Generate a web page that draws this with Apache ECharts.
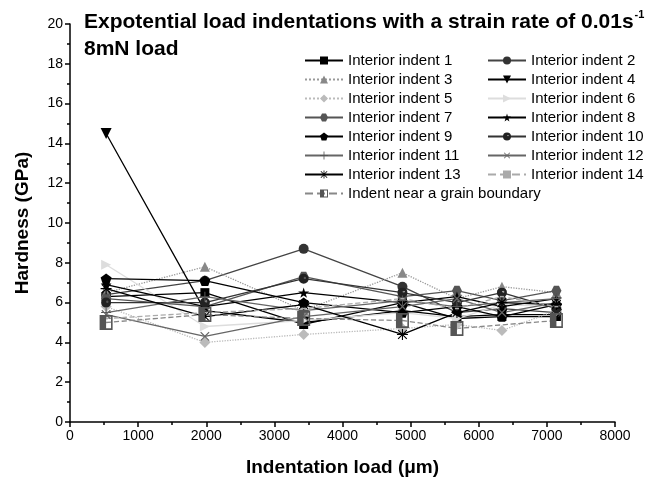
<!DOCTYPE html>
<html>
<head>
    <meta charset="utf-8">
    <title>Hardness vs indentation load</title>
    <script src="https://cdn.jsdelivr.net/npm/echarts@6/dist/echarts.min.js"></script>
    <style>
        html, body { margin: 0; padding: 0; background: #fff; }
        #main { width: 648px; height: 482px; }
    </style>
</head>
<body>
<div id="main"></div>
<script type="text/javascript">
    // 数据：压痕位置 (x) 与各压痕的硬度值 (GPa)
    var loads = [530, 1980, 3430, 4880, 5680, 6340, 7140];

    var indent1  = [6.3, 6.5, 4.9, 6.0, 5.2, 5.3, 5.3];
    var indent2  = [6.4, 7.1, 8.7, 6.8, 5.5, 5.7, 5.5];
    var indent3  = [6.5, 7.8, 5.6, 7.5, 6.2, 6.8, 6.5];
    var indent4  = [14.5, 5.6, 5.0, 5.6, 5.3, 5.4, 5.4];
    var indent5  = [5.8, 4.0, 4.4, 4.7, 4.9, 4.6, 5.6];
    var indent6  = [7.9, 4.8, 5.1, 5.5, 5.2, 5.9, 5.8];
    var indent7  = [6.2, 5.8, 7.3, 6.3, 6.6, 6.1, 6.6];
    var indent8  = [6.9, 5.8, 6.5, 6.0, 6.3, 5.8, 6.2];
    var indent9  = [7.2, 7.1, 6.0, 5.5, 5.8, 5.3, 5.9];
    var indent10 = [6.0, 6.0, 7.2, 6.5, 6.0, 6.5, 5.7];
    var indent11 = [5.5, 6.3, 5.6, 6.1, 5.8, 6.0, 6.2];
    var indent12 = [5.4, 4.3, 5.3, 5.8, 6.2, 5.5, 6.0];
    var indent13 = [6.7, 5.3, 5.9, 4.4, 5.5, 6.0, 5.9];
    var indent14 = [5.2, 5.5, 5.7, 6.2, 5.7, 6.3, 5.8];
    var boundary = [5.0, 5.4, 5.2, 5.1, 4.7, null, 5.1];

    var names = ['Interior indent 1', 'Interior indent 2', 'Interior indent 3', 'Interior indent 4',
        'Interior indent 5', 'Interior indent 6', 'Interior indent 7', 'Interior indent 8',
        'Interior indent 9', 'Interior indent 10', 'Interior indent 11', 'Interior indent 12',
        'Interior indent 13', 'Interior indent 14', 'Indent near a grain boundary'];
    var values = [indent1, indent2, indent3, indent4, indent5, indent6, indent7, indent8,
        indent9, indent10, indent11, indent12, indent13, indent14, boundary];

    // 符号
    var STAR = 'path://M50,0 L61,35 L98,35 L68,57 L79,91 L50,70 L21,91 L32,57 L2,35 L39,35 Z';
    var PENTA = 'path://M50,0 L98,35 L79,91 L21,91 L2,35 Z';
    var HEXA = 'path://M25,0 L75,0 L100,50 L75,100 L25,100 L0,50 Z';
    var PLUS = 'path://M45,0 L55,0 L55,45 L100,45 L100,55 L55,55 L55,100 L45,100 L45,55 L0,55 L0,45 L45,45 Z';
    var ASTER = 'path://M45,0 L55,0 L55,100 L45,100 Z M0,45 L100,45 L100,55 L0,55 Z M14,7 L93,86 L86,93 L7,14 Z M86,7 L93,14 L14,93 L7,86 Z';
    var HALFSQ = 'path://M0,0 L100,0 L100,100 L0,100 Z M50,12 L50,88 L88,88 L88,12 Z';
    var HALFCIR = 'path://M50,0 A50,50 0 1,1 49.9,0 Z M62,30 A12,12 0 1,0 62.1,30 Z';

    // 每条线的样式
    var styles = [
        {symbol: 'rect', color: '#000', line: '#000', type: 'solid', size: 9},
        {symbol: 'circle', color: '#333', line: '#444', type: 'solid', size: 10},
        {symbol: 'triangle', color: '#888', line: '#999', type: 'dotted', size: 10},
        {symbol: 'triangle', rotate: 180, color: '#000', line: '#000', type: 'solid', size: 11},
        {symbol: 'diamond', color: '#bbb', line: '#bbb', type: 'dotted', size: 11},
        {symbol: 'triangle', rotate: -90, color: '#ddd', line: '#ddd', type: 'solid', size: 10},
        {symbol: HEXA, color: '#555', line: '#555', type: 'solid', size: 10},
        {symbol: STAR, color: '#000', line: '#000', type: 'solid', size: 11},
        {symbol: PENTA, color: '#000', line: '#000', type: 'solid', size: 11},
        {symbol: HALFCIR, color: '#222', line: '#333', type: 'solid', size: 10},
        {symbol: PLUS, color: '#555', line: '#666', type: 'solid', size: 10},
        {symbol: PLUS, rotate: 45, color: '#666', line: '#666', type: 'solid', size: 12},
        {symbol: ASTER, color: '#000', line: '#000', type: 'solid', size: 11},
        {symbol: 'rect', color: '#aaa', line: '#aaa', type: 'dashed', size: [4, 1.5]},
        {symbol: HALFSQ, color: '#555', line: '#888', type: 'dashed', size: [13, 15]}
    ];

    var series = [];
    for (var i = 0; i < names.length; i++) {
        var pts = [];
        for (var j = 0; j < loads.length; j++) {
            if (values[i][j] !== null) pts.push([loads[j], values[i][j]]);
        }
        var s = styles[i];
        series.push({
            name: names[i],
            type: 'line',
            data: pts,
            symbol: s.symbol,
            symbolSize: s.size,
            symbolRotate: s.rotate || 0,
            symbolKeepAspect: true,
            showAllSymbol: true,
            animation: false,
            lineStyle: {color: s.line, width: 1.3, type: s.type},
            itemStyle: {color: s.color, borderColor: s.color, borderWidth: 0}
        });
    }

    var leftCol = [], rightCol = [];
    for (var k = 0; k < names.length; k++) {
        if (k % 2 === 0) leftCol.push(names[k]); else rightCol.push(names[k]);
    }

    var legendBase = {
        orient: 'vertical',
        top: 53,
        padding: 0,
        itemWidth: 38,
        itemHeight: 10,
        itemGap: 4,
        textStyle: {fontSize: 15, lineHeight: 14, color: '#000', fontFamily: 'Liberation Sans'},
        selectedMode: false
    };

    var myChart = echarts.init(document.getElementById('main'));
    myChart.setOption({
        backgroundColor: '#fff',
        animation: false,
        title: {
            text: '{t|Expotential load indentations with a strain rate of 0.01s}{sup|-1}\n{t|8mN load}',
            left: 79,
            top: 4,
            textStyle: {
                rich: {
                    t: {fontSize: 21, fontWeight: 'bold', color: '#000', fontFamily: 'Liberation Sans', lineHeight: 27},
                    sup: {fontSize: 11, fontWeight: 'bold', color: '#000', fontFamily: 'Liberation Sans', verticalAlign: 'top', lineHeight: 27, padding: [0, 0, 10, 1]}
                }
            }
        },
        legend: [
            Object.assign({}, legendBase, {left: 304, data: leftCol}),
            Object.assign({}, legendBase, {left: 487, data: rightCol})
        ],
        grid: {left: 70, right: 33, top: 24, bottom: 60},
        xAxis: {
            type: 'value',
            min: 0,
            max: 8000,
            interval: 1000,
            name: 'Indentation load (\u03bcm)',
            nameLocation: 'middle',
            nameGap: 36,
            nameTextStyle: {fontSize: 19, fontWeight: 'bold', color: '#000', fontFamily: 'Liberation Sans'},
            axisLine: {lineStyle: {color: '#000', width: 1.5}},
            axisTick: {length: 5, lineStyle: {color: '#000', width: 1.5}},
            minorTick: {show: true, splitNumber: 2, length: 3, lineStyle: {color: '#000', width: 1.5}},
            axisLabel: {fontSize: 14, color: '#000', fontFamily: 'Liberation Sans', margin: 7,
                formatter: function (v) { return String(v); }},
            splitLine: {show: false}
        },
        yAxis: {
            type: 'value',
            min: 0,
            max: 20,
            interval: 2,
            name: 'Hardness (GPa)',
            nameLocation: 'middle',
            nameGap: 38,
            nameTextStyle: {fontSize: 19, fontWeight: 'bold', color: '#000', fontFamily: 'Liberation Sans'},
            axisLine: {show: true, lineStyle: {color: '#000', width: 1.5}},
            axisTick: {show: true, length: 5, lineStyle: {color: '#000', width: 1.5}},
            minorTick: {show: true, splitNumber: 2, length: 3, lineStyle: {color: '#000', width: 1.5}},
            axisLabel: {fontSize: 14, color: '#000', fontFamily: 'Liberation Sans', margin: 7},
            splitLine: {show: false}
        },
        series: series
    });
</script>
</body>
</html>
